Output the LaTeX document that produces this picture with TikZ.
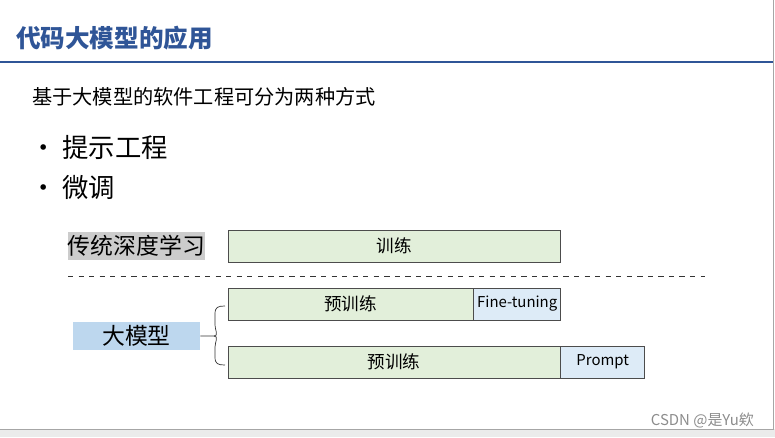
\documentclass[tikz,border=0pt]{standalone}
\usepackage{fontspec}
\setmainfont{Noto Sans CJK SC}
\usetikzlibrary{positioning}
\definecolor{titleblue}{HTML}{2F5597}
\definecolor{traingreen}{HTML}{E2EFDA}
\definecolor{tuneblue}{HTML}{DDEBF7}
\definecolor{modelblue}{HTML}{BDD7EE}
\tikzset{
  stage/.style = {draw = black!70, fill = traingreen, minimum height = 32*0.02cm, inner sep = 0pt, font = \fontsize{10}{12}\selectfont},
  extra/.style = {stage, fill = tuneblue, font = \fontsize{8.5}{10}\selectfont},
  label box/.style = {minimum width = 127*0.02cm, minimum height = 28*0.02cm, inner sep = 0pt, font = \fontsize{13}{15}\selectfont},
  bullet/.style = {anchor = west, font = \fontsize{15}{18}\selectfont}
}
\begin{document}
\begin{tikzpicture}[x=0.02cm, y=-0.02cm]
\useasboundingbox (0,0) rectangle (775,437);
% slide frame
\fill[black!8] (0,429) rectangle (775,437);
\draw[black!35] (773,0) -- (773,429) -- (0,429);
% title
\node[anchor = west, text = titleblue, font = \bfseries\fontsize{14}{17}\selectfont] (title) at (10,38) {代码大模型的应用};
\draw[titleblue, line width = 0.8pt] (0,62) -- (773,62);
\node[anchor = west, font = \fontsize{11.5}{14}\selectfont] (intro) at (26,97) {基于大模型的软件工程可分为两种方式};
\node[bullet] (b1) at (24,147) {• 提示工程};
\node[bullet] (b2) at (24,188) {• 微调};
% traditional
\node[label box, fill = black!20] (trad) at (136.5,246) {传统深度学习};
\node[stage, minimum width = 332*0.02cm] (train) at (394,246) {训练};
\draw[dashed, black!80] (68,276) -- (705,276);
% large model
\node[stage, minimum width = 245*0.02cm] (pre1) at (350.5,304) {预训练};
\node[extra, minimum width = 87*0.02cm, right = 0pt of pre1] (tune) {Fine-tuning};
\node[stage, minimum width = 332*0.02cm] (pre2) at (394,362) {预训练};
\node[extra, minimum width = 84*0.02cm, right = 0pt of pre2] (prompt) {Prompt};
\node[label box, fill = modelblue] (llm) at (136.5,336) {大模型};
\draw[black!80] (llm.east) -- (214,336) .. controls (219,336) and (215,330) .. (215,325)
  -- (215,314) .. controls (215,307) and (218,306) .. (225,306);
\draw[black!80] (214,336) .. controls (219,336) and (215,342) .. (215,347)
  -- (215,357) .. controls (215,364) and (218,365) .. (225,365);
% watermark
\node[anchor = east, text = black!45, font = \fontsize{8.5}{10}\selectfont] (mark) at (760,420) {CSDN @是Yu欸};
\end{tikzpicture}
\end{document}
